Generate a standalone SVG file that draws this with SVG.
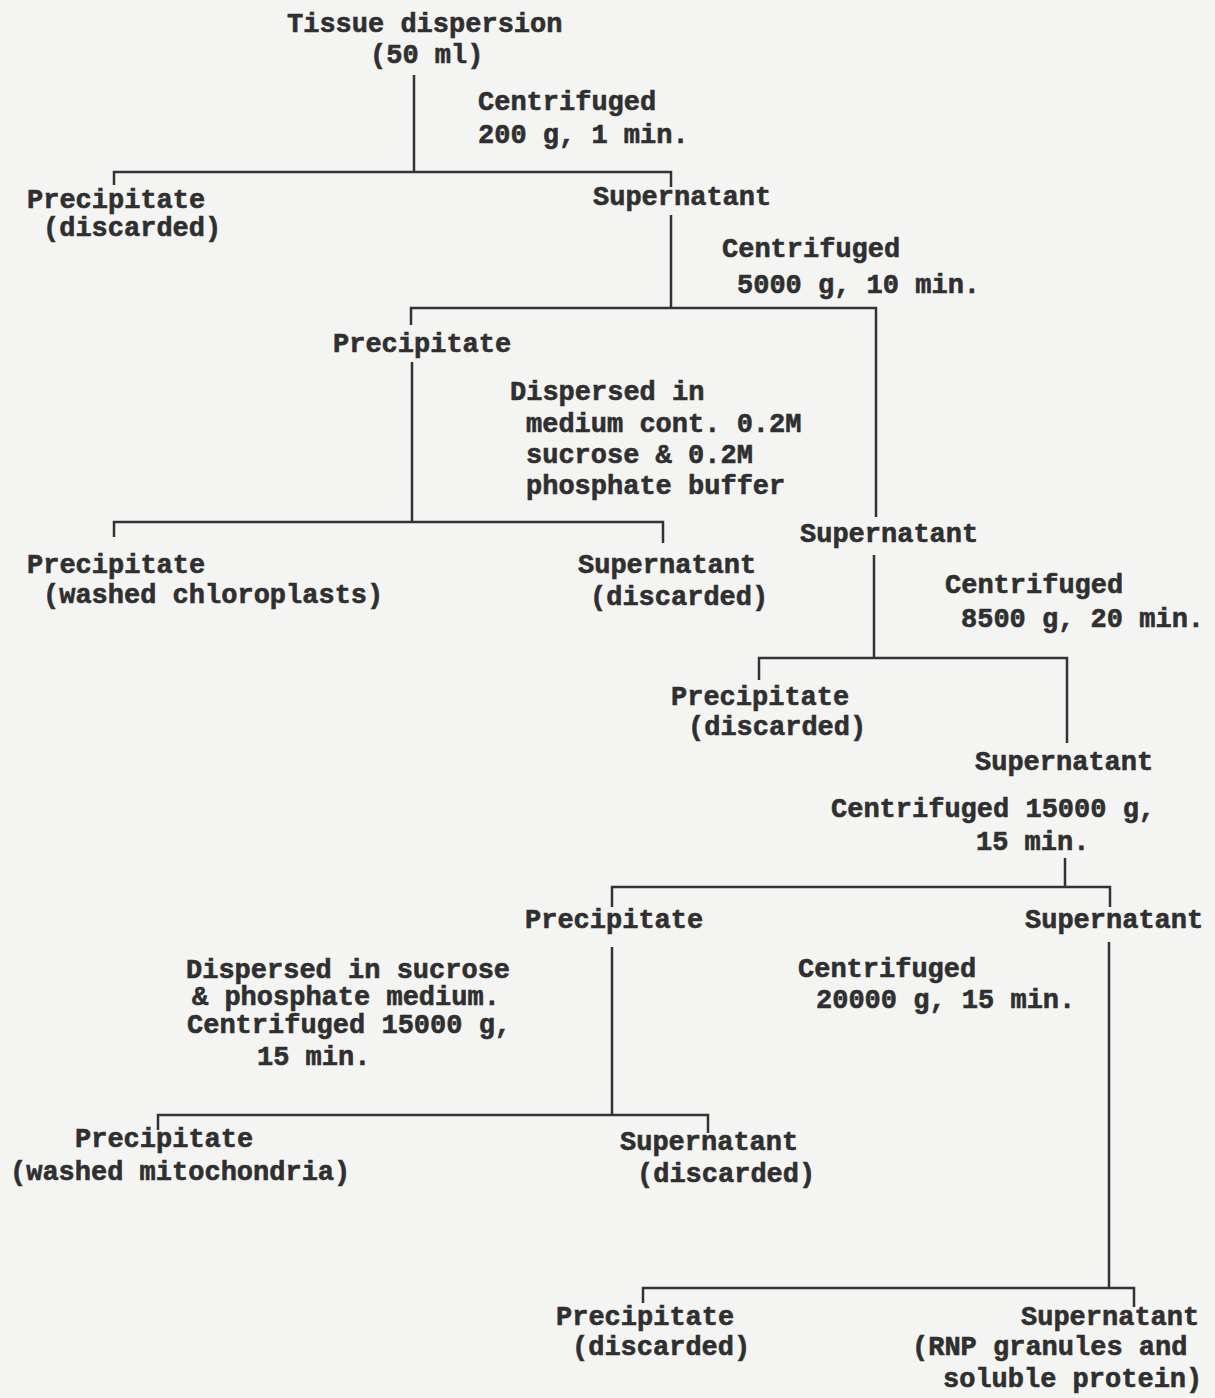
<svg xmlns="http://www.w3.org/2000/svg" width="1215" height="1398" viewBox="0 0 1215 1398">
<style>
text{font-family:"Liberation Mono","Courier New",monospace;font-weight:bold;font-size:27px;fill:#2f2f2f;stroke:#2f2f2f;stroke-width:0.6}
.c{fill:none;stroke:#333;stroke-width:2.5}
</style>
<rect width="1215" height="1398" fill="#f4f4f2"/>
<g id="connectors">
<path class="c" d="M414,75 V172"/>
<path class="c" d="M114,185 V172 H671 V187"/>
<path class="c" d="M671,215 V308"/>
<path class="c" d="M411,325 V308 H876 V517"/>
<path class="c" d="M412,362 V522"/>
<path class="c" d="M114,537 V522 H663 V543"/>
<path class="c" d="M874,555 V658"/>
<path class="c" d="M759,680 V658 H1067 V743"/>
<path class="c" d="M1065,858 V887"/>
<path class="c" d="M612,907 V887 H1110 V907"/>
<path class="c" d="M612,947 V1115"/>
<path class="c" d="M158,1130 V1115 H708 V1133"/>
<path class="c" d="M1109,942 V1288"/>
<path class="c" d="M643,1303 V1288 H1134 V1307"/>
</g>
<g id="tissue"><text x="287" y="32">Tissue dispersion</text><text x="370" y="63">(50 ml)</text></g>
<g id="step1"><text x="478" y="110">Centrifuged</text><text x="478" y="143">200 g, 1 min.</text></g>
<g id="prec1"><text x="27" y="208">Precipitate</text><text x="43" y="236">(discarded)</text></g>
<g id="sup1"><text x="593" y="205">Supernatant</text></g>
<g id="step2"><text x="722" y="257">Centrifuged</text><text x="737" y="293">5000 g, 10 min.</text></g>
<g id="prec2"><text x="333" y="352">Precipitate</text></g>
<g id="step2a"><text x="510" y="400">Dispersed in</text><text x="526" y="432">medium cont. 0.2M</text><text x="526" y="463">sucrose &amp; 0.2M</text><text x="526" y="494">phosphate buffer</text></g>
<g id="prec2a"><text x="27" y="573">Precipitate</text><text x="43" y="603">(washed chloroplasts)</text></g>
<g id="sup2a"><text x="578" y="573">Supernatant</text><text x="590" y="605">(discarded)</text></g>
<g id="sup2"><text x="800" y="542">Supernatant</text></g>
<g id="step3"><text x="945" y="593">Centrifuged</text><text x="961" y="627">8500 g, 20 min.</text></g>
<g id="prec3"><text x="671" y="705">Precipitate</text><text x="688" y="735">(discarded)</text></g>
<g id="sup3"><text x="975" y="770">Supernatant</text></g>
<g id="step4"><text x="831" y="817">Centrifuged 15000 g,</text><text x="976" y="850">15 min.</text></g>
<g id="prec4"><text x="525" y="928">Precipitate</text></g>
<g id="sup4"><text x="1025" y="928">Supernatant</text></g>
<g id="step4a"><text x="186" y="978">Dispersed in sucrose</text><text x="192" y="1005">&amp; phosphate medium.</text><text x="187" y="1033">Centrifuged 15000 g,</text><text x="257" y="1065">15 min.</text></g>
<g id="step5"><text x="798" y="977">Centrifuged</text><text x="816" y="1008">20000 g, 15 min.</text></g>
<g id="prec4a"><text x="75" y="1147">Precipitate</text><text x="10" y="1180">(washed mitochondria)</text></g>
<g id="sup4a"><text x="620" y="1150">Supernatant</text><text x="637" y="1182">(discarded)</text></g>
<g id="prec5"><text x="556" y="1325">Precipitate</text><text x="572" y="1355">(discarded)</text></g>
<g id="sup5"><text x="1021" y="1325">Supernatant</text><text x="912" y="1355">(RNP granules and</text><text x="943" y="1387">soluble protein)</text></g>
</svg>
